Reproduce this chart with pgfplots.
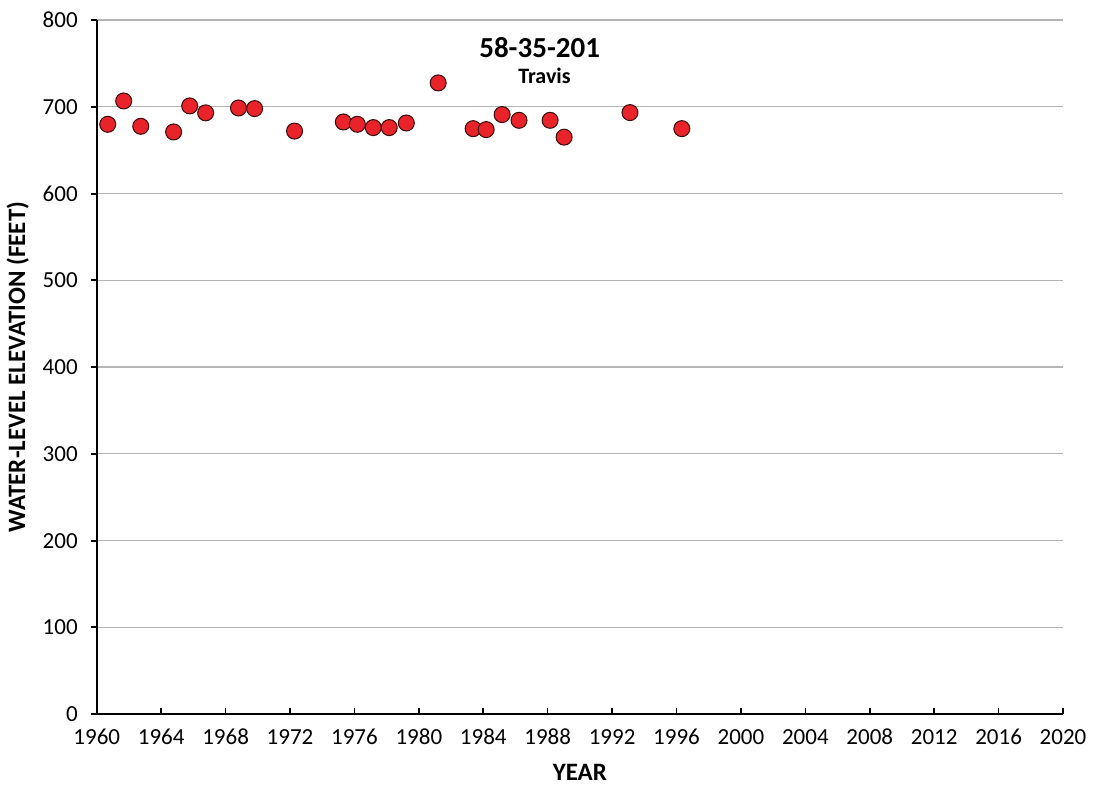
\documentclass[border=0pt]{standalone}
\usepackage{pgfplots}
\pgfplotsset{compat=1.18}
\usepackage{fontspec}
\setmainfont{Carlito}
\definecolor{ptred}{HTML}{E8232A}
\definecolor{gridgray}{HTML}{B4B4B4}
\begin{document}
\begin{tikzpicture}
\begin{axis}[
  scale only axis,
  width=483pt, height=347pt,
  xmin=1960, xmax=2020, ymin=0, ymax=800,
  axis x line=bottom, axis y line=left,
  axis line style={-, line width=1.1pt, black},
  xtick={1960,1964,...,2020},
  minor x tick num=3,
  ytick={0,100,...,800},
  x tick style={black, line width=0.8pt},
  y tick style={black, line width=1pt},
  xtick align=inside,
  ytick align=outside,
  major tick length=3pt, minor tick length=2.5pt,
  ymajorgrids, grid style={gridgray, line width=0.6pt},
  tick label style={font=\fontsize{11.5}{13}\selectfont},
  xticklabel style={yshift=-4pt},
  yticklabel style={xshift=-3pt},
  /pgf/number format/assume math mode=true,
  xticklabel={\pgfmathprintnumber[1000 sep=]{\tick}},
  yticklabel={\pgfmathprintnumber[1000 sep=]{\tick}},
  xlabel={\bfseries YEAR},
  ylabel={\bfseries WATER-LEVEL ELEVATION (FEET)},
  label style={font=\fontsize{12.5}{14}\selectfont},
  xlabel style={yshift=-2.5pt},
  ylabel style={yshift=0pt},
  clip=false,
]
\addplot[only marks, mark=*, mark size=4pt,
  mark options={fill=ptred, draw=black!75!ptred, line width=0.5pt}]
coordinates {
(1960.68,679.8) (1961.67,706.7) (1962.73,677.5) (1964.77,671) (1965.77,701)
(1966.76,693) (1968.80,698.6) (1969.80,697.9) (1972.28,672) (1975.31,682.5)
(1976.18,679.8) (1977.17,676) (1978.16,676) (1979.22,681.3) (1981.20,727.5)
(1983.37,674.8) (1984.18,673.7) (1985.17,691) (1986.22,684.4) (1988.15,684.4)
(1989.02,665) (1993.11,693.3) (1996.33,674.8)
};
\node[font=\bfseries\fontsize{14.5}{16}\selectfont] at (axis cs:1987.5,768.5) {58-35-201};
\node[font=\bfseries\fontsize{11}{13}\selectfont] at (axis cs:1987.8,735.5) {Travis};
\path (rel axis cs:1,1) ++(19.5pt,10pt) coordinate (bbx);
\end{axis}
\end{tikzpicture}
\end{document}
